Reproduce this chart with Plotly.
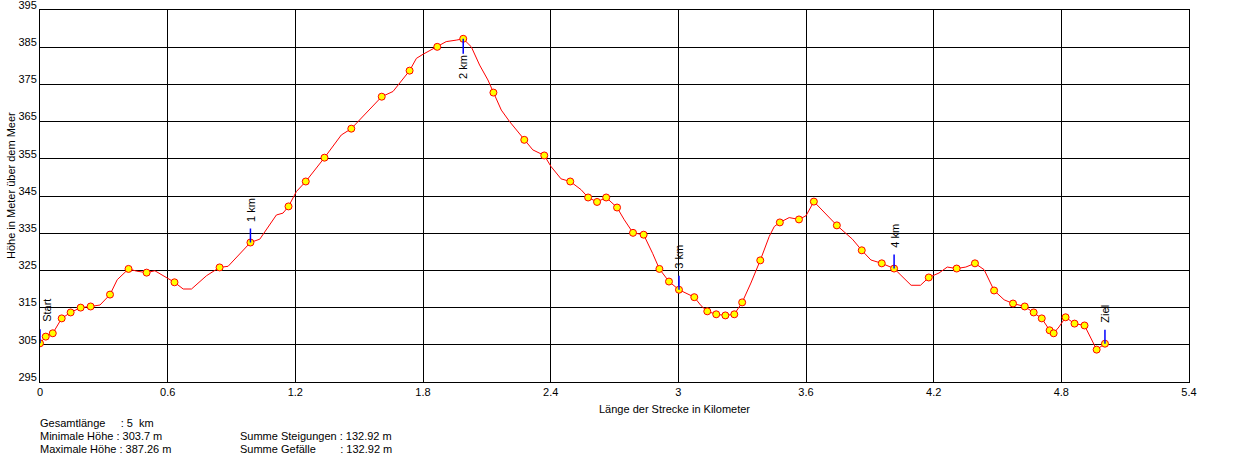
import numpy as np
import plotly.graph_objects as go

# ---- data -------------------------------------------------------------
dist_km = [0.000, 0.027, 0.060, 0.102, 0.144, 0.191, 0.238, 0.282, 0.329, 0.363,
           0.416, 0.454, 0.501, 0.540, 0.632, 0.673, 0.712, 0.783, 0.844, 0.884,
           0.989, 1.033, 1.111, 1.142, 1.168, 1.205, 1.249, 1.337, 1.416, 1.463,
           1.606, 1.659, 1.737, 1.769, 1.800, 1.867, 1.909, 1.956, 1.989, 2.027,
           2.066, 2.105, 2.131, 2.168, 2.207, 2.276, 2.316, 2.370, 2.402, 2.449,
           2.492, 2.543, 2.576, 2.618, 2.661, 2.712, 2.746, 2.787, 2.837, 2.879,
           2.911, 2.956, 3.003, 3.075, 3.107, 3.136, 3.178, 3.221, 3.263, 3.300,
           3.341, 3.385, 3.427, 3.451, 3.477, 3.521, 3.567, 3.600, 3.637, 3.745,
           3.818, 3.862, 3.905, 3.956, 4.014, 4.094, 4.138, 4.177, 4.225, 4.264,
           4.308, 4.351, 4.394, 4.437, 4.484, 4.531, 4.573, 4.628, 4.670, 4.708,
           4.745, 4.764, 4.789, 4.820, 4.862, 4.909, 4.966, 5.005]

elev_m = [305.4, 307.2, 308.1, 312.1, 313.7, 315.0, 315.3, 315.7, 318.5, 322.5,
          325.4, 324.8, 324.4, 324.9, 321.8, 320.0, 320.0, 323.6, 325.8, 326.1,
          332.5, 333.4, 339.9, 340.4, 342.2, 346.2, 348.9, 355.3, 361.4, 363.1,
          371.7, 373.1, 378.7, 382.0, 383.1, 385.1, 386.5, 386.9, 387.26, 385.1,
          380.2, 376.2, 372.8, 368.1, 365.0, 360.1, 357.4, 355.9, 352.9, 349.6,
          348.9, 346.7, 344.6, 343.4, 344.6, 341.9, 338.6, 335.1, 334.6, 329.6,
          325.4, 322.0, 319.8, 317.8, 315.5, 314.0, 313.2, 312.9, 313.2, 316.4,
          321.6, 327.7, 334.1, 336.8, 337.9, 339.2, 338.7, 339.7, 343.5, 337.1,
          333.4, 330.4, 327.8, 326.9, 325.5, 321.0, 321.0, 323.1, 324.3, 325.9,
          325.5, 325.9, 326.9, 325.2, 319.6, 317.1, 316.1, 315.3, 313.7, 312.1,
          308.9, 308.1, 309.8, 312.4, 310.7, 310.2, 303.7, 305.3]

# indices of the track points drawn as waypoints (yellow dots)
waypoint_idx = [0, 1, 2, 3, 4, 5, 6, 8, 10, 12, 14, 18, 20, 24, 26, 27, 29, 30, 32, 35,
                38, 42, 45, 47, 50, 52, 53, 54, 55, 57, 58, 60, 61, 62, 63, 65, 66, 67,
                68, 69, 71, 74, 76, 78, 79, 81, 83, 84, 87, 90, 92, 94, 96, 97, 98, 99,
                100, 101, 103, 104, 105, 106, 107]

# kilometre / start / finish labels
km_label_idx = [0, 20, 38, 62, 84, 107]
km_label_text = ["Start", "1 km", "2 km", "3 km", "4 km", "Ziel"]
km_label_below = [False, False, True, False, False, False]

x_ticks = [0, 0.6, 1.2, 1.8, 2.4, 3.0, 3.6, 4.2, 4.8, 5.4]
x_tick_text = ["0", "0.6", "1.2", "1.8", "2.4", "3", "3.6", "4.2", "4.8", "5.4"]
y_ticks = [295, 305, 315, 325, 335, 345, 355, 365, 375, 385, 395]

NB = "&nbsp;"
summary_left = ["Gesamtlänge" + NB * 4 + " : 5" + NB + " km",
                "Minimale Höhe : 303.7 m",
                "Maximale Höhe : 387.26 m"]
summary_right = ["Summe Steigungen : 132.92 m",
                 "Summe Gefälle" + NB * 7 + " : 132.92 m"]

# ---- figure -----------------------------------------------------------
FONT = "Liberation Sans, Arial, sans-serif"
W, H = 1240, 473
ML, MR, MT, MB = 40, 51, 10, 91
PW, PH = W - ML - MR, H - MT - MB

def px_x(px):
    return (px - ML) / PW

def px_y(py):
    return (MT + PH - py) / PH

fig = go.Figure()

fig.add_trace(go.Scatter(
    x=dist_km, y=elev_m, mode="lines",
    line=dict(color="#ff0000", width=1),
    hoverinfo="skip", showlegend=False))

fig.add_trace(go.Scatter(
    x=[dist_km[i] for i in waypoint_idx],
    y=[elev_m[i] for i in waypoint_idx],
    mode="markers",
    marker=dict(color="#ffff00", size=7, line=dict(color="#ff0000", width=1)),
    showlegend=False))

shapes = []
annotations = []
for idx, txt, below in zip(km_label_idx, km_label_text, km_label_below):
    xv, yv = dist_km[idx], elev_m[idx]
    if below:
        shapes.append(dict(type="line", xref="x", yref="y", ysizemode="pixel",
                           yanchor=yv, x0=xv, x1=xv, y0=0, y1=-15,
                           line=dict(color="#0000ff", width=1.5), layer="above"))
        annotations.append(dict(x=xv, y=yv, xref="x", yref="y", text=txt,
                                textangle=-90, showarrow=False, yanchor="top",
                                xanchor="center",
                                yshift=-14, font=dict(family=FONT, size=11, color="black")))
    else:
        shapes.append(dict(type="line", xref="x", yref="y", ysizemode="pixel",
                           yanchor=yv, x0=xv, x1=xv, y0=0, y1=14,
                           line=dict(color="#0000ff", width=1.5), layer="above"))
        annotations.append(dict(x=xv, y=yv, xref="x", yref="y", text=txt,
                                textangle=-90, showarrow=False, yanchor="bottom",
                                xanchor="left" if idx == 0 else "center",
                                xshift=-1 if idx == 0 else 0,
                                yshift=19, font=dict(family=FONT, size=11, color="black")))

# axis titles
annotations.append(dict(xref="paper", yref="paper", x=px_x(674.5), y=px_y(409),
                        xanchor="center", yanchor="middle",
                        text="Länge der Strecke in Kilometer", showarrow=False,
                        font=dict(family=FONT, size=11, color="black")))
annotations.append(dict(xref="paper", yref="paper", x=px_x(11), y=px_y(186),
                        xanchor="center", yanchor="middle",
                        text="Höhe in Meter über dem Meer", textangle=-90, showarrow=False,
                        font=dict(family=FONT, size=11, color="black")))

# summary block
rows_y = [422.7, 436, 449]
for txt, py in zip(summary_left, rows_y):
    annotations.append(dict(xref="paper", yref="paper", x=px_x(38), y=px_y(py),
                            xanchor="left", yanchor="middle", text=txt, showarrow=False,
                            font=dict(family=FONT, size=11, color="black")))
for txt, py in zip(summary_right, rows_y[1:]):
    annotations.append(dict(xref="paper", yref="paper", x=px_x(238), y=px_y(py),
                            xanchor="left", yanchor="middle", text=txt, showarrow=False,
                            font=dict(family=FONT, size=11, color="black")))

fig.update_layout(
    width=W, height=H,
    margin=dict(l=ML, r=MR, t=MT, b=MB, pad=0, autoexpand=False),
    paper_bgcolor="white", plot_bgcolor="white",
    font=dict(family=FONT, size=11, color="black"),
    showlegend=False,
    shapes=shapes,
    annotations=annotations,
    xaxis=dict(range=[0, 5.4], tickmode="array", tickvals=x_ticks, ticktext=x_tick_text,
               showgrid=True, gridcolor="black", gridwidth=1,
               showline=True, linecolor="black", linewidth=1, mirror=True,
               zeroline=False, ticks="", fixedrange=True, automargin=False),
    yaxis=dict(range=[295, 395], tickmode="array", tickvals=y_ticks,
               showgrid=True, gridcolor="black", gridwidth=1,
               showline=True, linecolor="black", linewidth=1, mirror=True,
               zeroline=False, ticks="", ticklabelshift=-5, ticklabelstandoff=0,
               ticklabeloverflow="allow", fixedrange=True, automargin=False),
)

# remove the browser's default 8px page margin so the figure fills the window
fig.write_html("out.html", config={"displayModeBar": False},
               post_script="document.body.style.margin='0';document.body.style.overflow='hidden';")
